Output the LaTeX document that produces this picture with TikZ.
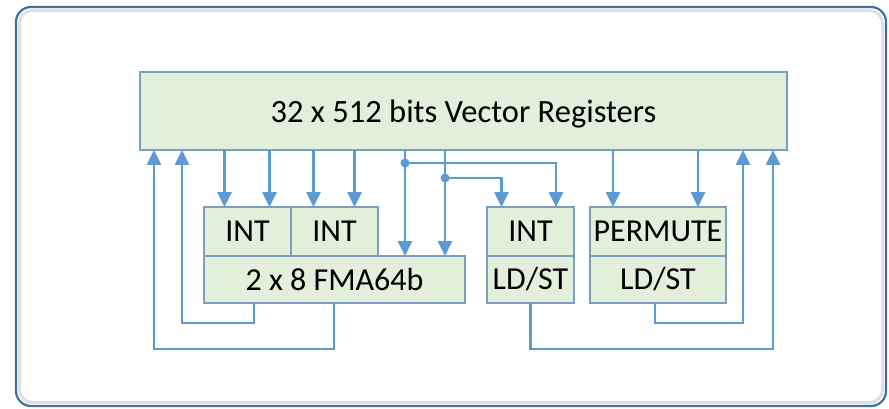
\documentclass[tikz,border=0pt]{standalone}
\usepackage{fontspec}
\setmainfont{Carlito}
\usetikzlibrary{arrows.meta,positioning,calc}
\definecolor{regfill}{HTML}{E2EFDA}
\definecolor{regline}{HTML}{7F9DBF}
\definecolor{linkblue}{HTML}{5B9BD5}
\definecolor{framblue}{HTML}{41719C}

\begin{document}
\begin{tikzpicture}[x=1pt, y=-1pt,
    frame/.style={rectangle, draw=framblue, line width=2.2pt, rounded corners=15pt,
                  minimum width=870pt, minimum height=399pt, inner sep=0pt},
    unit/.style={rectangle, draw=regline, line width=1.4pt, fill=regfill, inner sep=0pt,
                 outer sep=0pt, minimum height=49pt, font=\fontsize{32}{38}\selectfont},
    arr/.style={-{Triangle[length=15pt, width=14pt]}, draw=linkblue, line width=2.6pt},
    tap/.style={circle, fill=linkblue, inner sep=0pt, minimum size=9pt}
]
    \useasboundingbox (0,0) rectangle (889,409);
    % Outer frame with soft inner shade
    \draw[black!12, line width=3pt, rounded corners=13pt] (19.5,10.5) rectangle (882.5,402.5);
    \node[frame] (frame) at (451,206.5) {};

    % Register file
    \node[unit, minimum width=647pt, minimum height=78pt, text height=26pt, text depth=2pt,
          font=\fontsize{32.5}{38}\selectfont]
        (reg) at (463.5,111) {32 x 512 bits Vector Registers};

    % Execution units
    \node[unit, minimum width=87pt, anchor=north west] (int1) at (204,207) {INT};
    \node[unit, minimum width=87pt, right=0pt of int1] (int2) {INT};
    \node[unit, minimum width=261pt, minimum height=47pt, anchor=north west] (fma) at (int1.south west) {2 x 8 FMA64b};
    \node[unit, minimum width=87pt, anchor=north west] (int3) at (487,207) {INT};
    \node[unit, minimum width=87pt, minimum height=47pt, anchor=north west] (ldst1) at (int3.south west) {LD/ST};
    \node[unit, minimum width=136pt, anchor=north west] (perm) at (590,207) {PERMUTE};
    \node[unit, minimum width=136pt, minimum height=47pt, anchor=north west] (ldst2) at (perm.south west) {LD/ST};

    % Operand reads
    \foreach \u/\d in {int1/-23, int1/22, int2/-21, int2/20, perm/-45, perm/40}
        \draw[arr] ([xshift=\d pt]\u.north |- reg.south) -- ([xshift=\d pt]\u.north);

    % Shared operand taps
    \coordinate (t1) at (405,163);
    \coordinate (t2) at (445,178);
    \draw[arr] (t1 |- reg.south) -- (t1 |- fma.north);
    \draw[arr] (t2 |- reg.south) -- (t2 |- fma.north);
    \draw[arr] (t1) -| ([xshift=25.5pt]int3.north);
    \draw[arr] (t2) -| ([xshift=-29pt]int3.north);
    \node[tap] (d1) at (t1) {};
    \node[tap] (d2) at (t2) {};

    % Write-back paths
    \coordinate (w1) at (182,323);
    \coordinate (w2) at (154,349);
    \coordinate (w3) at (773,349);
    \coordinate (w4) at (743,323);
    \draw[arr] ([xshift=50pt]fma.south west) |- (w1) -- (w1 |- reg.south);
    \draw[arr] ([xshift=130pt]fma.south west) |- (w2) -- (w2 |- reg.south);
    \draw[arr] (ldst1.south) |- (w3) -- (w3 |- reg.south);
    \draw[arr] ([xshift=-3pt]ldst2.south) |- (w4) -- (w4 |- reg.south);
\end{tikzpicture}
\end{document}
